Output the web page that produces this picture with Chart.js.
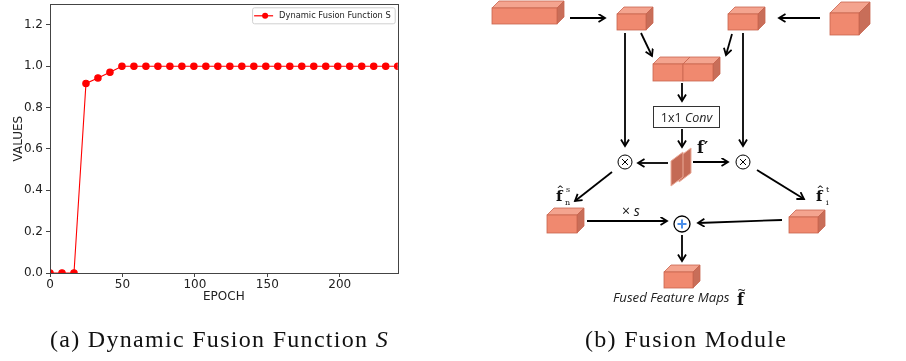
<!DOCTYPE html>
<html>
<head>
<meta charset="utf-8">
<script src="https://cdn.jsdelivr.net/npm/chart.js@4/dist/chart.umd.min.js"></script>
<style>
  html, body { margin: 0; padding: 0; background: #fff; }
  #page { position: relative; width: 906px; height: 361px; overflow: hidden; }
  #chartBox { position: absolute; left: 0; top: 0; }
  #diagram { position: absolute; left: 0; top: 0; }
  .cap { position: absolute; top: 326px; font-family: "Liberation Serif", serif; font-size: 24px; letter-spacing: 1.3px; color: #111; white-space: nowrap; }
</style>
</head>
<body>
<div id="page">
  <div id="chartBox"><canvas id="fusionChart" width="402" height="305"></canvas></div>
  <svg id="diagram" width="906" height="361"></svg>
  <div class="cap" style="left:50px">(a) Dynamic Fusion Function <i>S</i></div>
  <div class="cap" style="left:585px">(b) Fusion Module</div>
</div>
<script>
const seriesLabel = 'Dynamic Fusion Function S'
const epochs = [0, 8.28, 16.55, 24.83, 33.10, 41.38, 49.66, 57.93, 66.21, 74.48,
  82.76, 91.03, 99.31, 107.59, 115.86, 124.14, 132.41, 140.69, 148.97, 157.24,
  165.52, 173.79, 182.07, 190.34, 198.62, 206.90, 215.17, 223.45, 231.72, 240]
const sValues = [0, 0, 0, 0.917, 0.944, 0.971, 1, 1, 1, 1,
  1, 1, 1, 1, 1, 1, 1, 1, 1, 1,
  1, 1, 1, 1, 1, 1, 1, 1, 1, 1]
const xTicks = [0, 50, 100, 150, 200]
const yTicks = [0, 0.2, 0.4, 0.6, 0.8, 1.0, 1.2]

const tickFont = { family: 'DejaVu Sans', size: 12 }

// frame on all four sides + legend box inside the plot, matplotlib style
const framePlugin = {
  id: 'frame',
  afterDraw(chart) {
    const { ctx, chartArea: a } = chart
    ctx.save()
    ctx.strokeStyle = '#444'
    ctx.lineWidth = 1
    ctx.strokeRect(Math.round(a.left) + 0.5, Math.round(a.top) + 0.5, Math.round(a.right - a.left), Math.round(a.bottom - a.top))

    ctx.font = '8.3px "DejaVu Sans"'
    const tw = ctx.measureText(seriesLabel).width
    const w = tw + 31, h = 16
    const x = a.right - 3 - w, y = a.top + 3
    ctx.fillStyle = 'rgba(255,255,255,0.85)'
    ctx.strokeStyle = '#d0d0d0'
    ctx.beginPath()
    ctx.roundRect(x + 0.5, y + 0.5, w, h, 2)
    ctx.fill()
    ctx.stroke()
    ctx.strokeStyle = 'red'
    ctx.lineWidth = 1.2
    ctx.beginPath()
    ctx.moveTo(x + 2, y + h / 2 + 0.5)
    ctx.lineTo(x + 21, y + h / 2 + 0.5)
    ctx.stroke()
    ctx.fillStyle = 'red'
    ctx.beginPath()
    ctx.arc(x + 13, y + h / 2 + 0.5, 3, 0, Math.PI * 2)
    ctx.fill()
    ctx.fillStyle = '#222'
    ctx.textBaseline = 'middle'
    ctx.fillText(seriesLabel, x + 27, y + h / 2 + 1)
    ctx.restore()
  }
}

new Chart('fusionChart', {
  type: 'line',
  data: {
    datasets: [{
      label: seriesLabel,
      data: epochs.map((e, i) => ({ x: e, y: sValues[i] })),
      borderColor: 'red',
      backgroundColor: 'red',
      borderWidth: 1.1,
      pointRadius: 3.2,
      pointHoverRadius: 3.2,
      tension: 0
    }]
  },
  options: {
    responsive: false,
    animation: false,
    devicePixelRatio: 1,
    layout: { padding: { top: 0, right: 2, left: 0, bottom: 0 } },
    plugins: { legend: { display: false }, tooltip: { enabled: false } },
    scales: {
      x: {
        type: 'linear', min: 0, max: 240,
        afterBuildTicks: s => { s.ticks = xTicks.map(v => ({ value: v })) },
        afterFit: s => { s.height = 32; s.paddingRight = 0 },
        ticks: { color: '#222', font: tickFont, padding: 1, maxRotation: 0 },
        grid: { display: true, drawOnChartArea: false, color: '#444', tickLength: 4 },
        border: { color: '#444' },
        title: { display: true, text: 'EPOCH', color: '#222', font: tickFont, padding: { top: 0, bottom: 1 } }
      },
      y: {
        type: 'linear', min: 0, max: 1.3,
        afterBuildTicks: s => { s.ticks = yTicks.map(v => ({ value: v })) },
        afterFit: s => { s.width = 50; s.paddingTop = 0; s.paddingBottom = 0 },
        ticks: { color: '#222', font: tickFont, padding: 3, callback: v => v.toFixed(1) },
        grid: { display: true, drawOnChartArea: false, color: '#444', tickLength: 4 },
        border: { color: '#444' },
        title: { display: true, text: 'VALUES', color: '#222', font: tickFont, padding: { top: 12, bottom: 0 } }
      }
    }
  },
  plugins: [framePlugin]
})

// ---- Fusion module diagram (plain SVG) ----
const svg = document.getElementById('diagram')
let out = `<defs><marker id="ah" markerUnits="userSpaceOnUse" markerWidth="10" markerHeight="10" refX="7" refY="4.5" orient="auto">
<path d="M0.5,0.5 L7,4.5 L0.5,8.5" fill="none" stroke="#000" stroke-width="1.8"/></marker></defs>`

const cuboid = (x, y, w, h, d) => {
  const front = '#F0896F', top = '#F4A48F', side = '#C86E59', edge = '#C9654F'
  return `<polygon points="${x},${y} ${x + d},${y - d} ${x + w + d},${y - d} ${x + w},${y}" fill="${top}" stroke="${edge}" stroke-width="0.8"/>
<polygon points="${x + w},${y} ${x + w + d},${y - d} ${x + w + d},${y + h - d} ${x + w},${y + h}" fill="${side}" stroke="${edge}" stroke-width="0.8"/>
<rect x="${x}" y="${y}" width="${w}" height="${h}" fill="${front}" stroke="${edge}" stroke-width="0.8"/>`
}
const arrow = (x1, y1, x2, y2) => `<line x1="${x1}" y1="${y1}" x2="${x2}" y2="${y2}" stroke="#000" stroke-width="1.8" marker-end="url(#ah)"/>`

out += cuboid(492, 8, 65, 16, 7)
out += cuboid(617, 14, 29, 16, 7)
out += cuboid(728, 14, 30, 16, 7)
out += cuboid(830, 13, 29, 22, 11)
out += cuboid(653, 64, 30, 17, 7)
out += cuboid(683, 64, 30, 17, 7)
out += cuboid(547, 215, 30, 18, 7)
out += cuboid(789, 217, 29, 16, 7)
out += cuboid(664, 272, 29, 16, 7)

// f' planes
out += `<polygon points="679,157 691,148 691,173 679,182" fill="#C46A55" stroke="#EBAA98" stroke-width="1"/>`
out += `<polygon points="671,161 683,152 683,177 671,186" fill="#C46A55" stroke="#EBAA98" stroke-width="1"/>`

out += arrow(570, 18, 605, 18)
out += arrow(820, 18, 779, 18)
out += arrow(641, 33, 652, 56)
out += arrow(732, 34, 726, 55)
out += arrow(625, 33, 625, 146)
out += arrow(743, 33, 743, 146)
out += arrow(682, 83, 682, 101)
out += arrow(682, 129, 682, 147)
out += arrow(668, 163, 638, 163)
out += arrow(693, 162, 728, 162)
out += arrow(612, 172, 575, 201)
out += arrow(757, 170, 804, 199)
out += arrow(587, 221, 667, 221)
out += arrow(782, 220, 698, 223)
out += arrow(682, 235, 682, 261)

// conv box
out += `<rect x="653.5" y="106.5" width="66" height="21" fill="#fff" stroke="#333" stroke-width="1"/>`
out += `<text x="686.5" y="122" text-anchor="middle" font-family="Open Sans" font-size="12.5" fill="#222">1x1 <tspan font-style="italic">Conv</tspan></text>`

// multiply / add nodes
const otimes = (cx, cy) => `<circle cx="${cx}" cy="${cy}" r="7" fill="#fff" stroke="#000" stroke-width="1"/>
<line x1="${cx - 3}" y1="${cy - 3}" x2="${cx + 3}" y2="${cy + 3}" stroke="#000" stroke-width="1"/>
<line x1="${cx - 3}" y1="${cy + 3}" x2="${cx + 3}" y2="${cy - 3}" stroke="#000" stroke-width="1"/>`
out += otimes(625, 162) + otimes(743, 162)
out += `<circle cx="682" cy="224" r="8" fill="#fff" stroke="#000" stroke-width="1.3"/>
<line x1="677.5" y1="224" x2="686.5" y2="224" stroke="#4A8FEA" stroke-width="2"/>
<line x1="682" y1="219.5" x2="682" y2="228.5" stroke="#4A8FEA" stroke-width="2"/>`

// labels
const serif = 'font-family="DejaVu Serif" font-weight="bold"'
out += `<text x="697" y="153" ${serif} font-size="16" fill="#111">f′</text>`
out += `<text x="556" y="201" ${serif} font-size="15" fill="#111">f</text>
<text x="556.5" y="192" ${serif} font-size="9" fill="#111">^</text>
<text x="566" y="192" font-family="DejaVu Serif" font-size="8" fill="#111">s</text>
<text x="565" y="205" font-family="DejaVu Serif" font-size="8" fill="#111">n</text>`
out += `<text x="816" y="201" ${serif} font-size="15" fill="#111">f</text>
<text x="816.5" y="192" ${serif} font-size="9" fill="#111">^</text>
<text x="826" y="192" font-family="DejaVu Serif" font-size="8" fill="#111">t</text>
<text x="826" y="205" font-family="DejaVu Serif" font-size="8" fill="#111">i</text>`
out += `<text x="622" y="216" font-family="Open Sans" font-size="14" fill="#111">× <tspan font-style="italic">s</tspan></text>`
out += `<text x="613" y="302" font-family="Open Sans" font-style="italic" font-size="13.2" fill="#222">Fused Feature Maps</text>`
out += `<text x="737" y="305" ${serif} font-size="16" fill="#111">f</text>
<text x="737" y="294" font-family="DejaVu Serif" font-size="11" fill="#111">~</text>`

svg.innerHTML = out
</script>
</body>
</html>
